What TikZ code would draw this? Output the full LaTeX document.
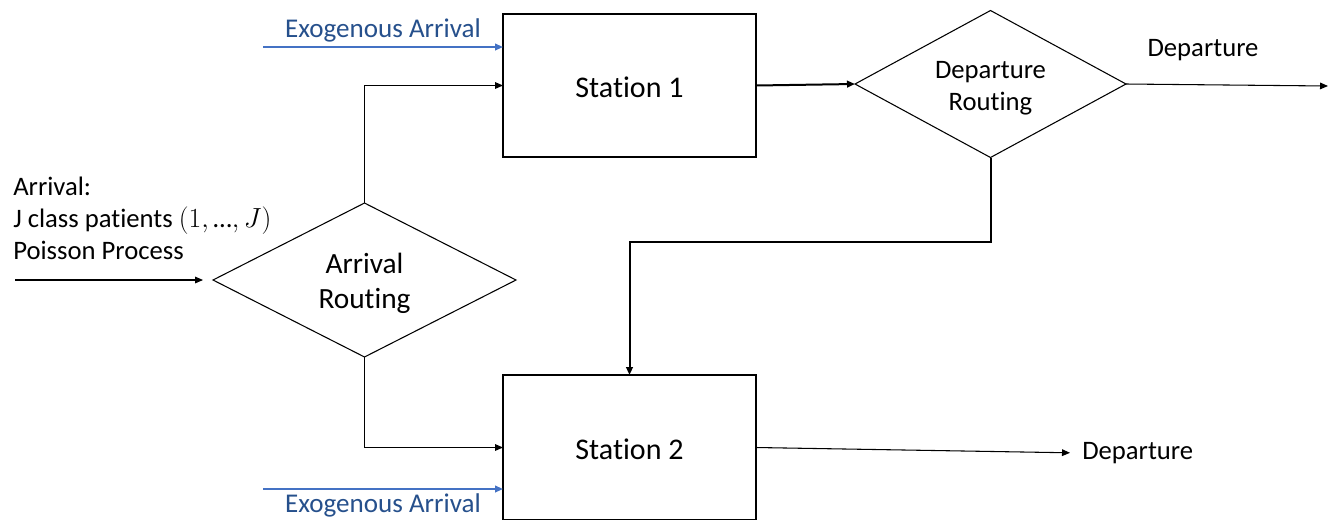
\documentclass[tikz,border=0pt]{standalone}
\usepackage{fontspec}
\setmainfont{Carlito}[Ligatures=NoCommon]
\usetikzlibrary{shapes.geometric,arrows.meta}
\definecolor{exoline}{RGB}{68,114,196}
\definecolor{exotext}{RGB}{38,80,140}
\tikzset{
  px/.style={x=0.75pt,y=-0.75pt},
  station/.style={draw,rectangle,minimum width=189.75pt,inner sep=0pt,outer sep=0pt,line width=0.8pt},
  stationtext/.style={font=\fontsize{22.5}{27}\selectfont,yshift=-1.5pt},
  router/.style={draw,diamond,inner sep=0pt,outer sep=0pt,line width=0.8pt},
  arr/.style={-{Triangle[length=6pt,width=5pt]},line width=0.8pt},
  thickarr/.style={-{Triangle[length=6pt,width=5pt]},line width=1.5pt},
  exoarr/.style={-{Triangle[length=6pt,width=5pt]},line width=1.3pt,draw=exoline},
  exolabel/.style={text=exotext,font=\fontsize{20.3}{24}\selectfont,inner sep=0pt},
  plainlabel/.style={font=\fontsize{20}{24}\selectfont,inner sep=0pt},
}
\begin{document}
\begin{tikzpicture}[px]
\useasboundingbox (0,0) rectangle (1334,519);
\clip (0,0) rectangle (1334,519);
% stations
\node[station,minimum height=107.25pt,label={[stationtext]center:Station 1}] (s1) at (629.5,85.5) {};
\node[station,minimum height=108.75pt,label={[stationtext]center:Station 2}] (s2) at (629.5,447.5) {};
% routers
\node[router,minimum width=227.25pt,minimum height=115.5pt,
  label={[align=center,font=\fontsize{22}{26}\selectfont,yshift=-2.25pt]center:Arrival\\Routing}] (ar) at (364.5,280) {};
\node[router,minimum width=203.25pt,minimum height=110.25pt,
  label={[align=center,font=\fontsize{20}{24}\selectfont,yshift=-3pt]center:Departure\\Routing}] (dr) at (990.5,84) {};
% arrival text
\node[plainlabel,anchor=west,align=left] (atext) at (13,218) {Arrival:\\J class patients $(1,\mbox{…},J)$\\Poisson Process};
\coordinate (ain) at (15,280);
\draw[arr,shorten >=7.5pt] (ain) -- (ar.west);
% routing to stations
\draw[arr] (ar.north) |- (s1.west);
\draw[arr] (ar.south) |- (s2.west);
% exogenous arrivals
\coordinate (e1) at (263,47);
\coordinate (e2) at (263,489);
\draw[exoarr] (e1) -- (e1 -| s1.west);
\draw[exoarr] (e2) -- (e2 -| s2.west);
\node[exolabel] (x1) at (383,30) {Exogenous Arrival};
\node[exolabel] (x2) at (383,505) {Exogenous Arrival};
% station 1 to departure routing
\draw[thickarr] (s1.east) -- (dr.west);
% departure routing out
\coordinate (d1end) at (1328,86);
\draw[arr] (dr.east) -- (d1end);
\node[plainlabel] (d1) at (1203,50) {Departure};
% feedback to station 2
\coordinate (m) at (0,242);
\draw[thickarr] (dr.south) -- (dr.south |- m) -| (s2.north);
% station 2 departure
\node[plainlabel,anchor=west] (d2) at (1082,453) {Departure};
\draw[arr,shorten >=9pt] (s2.east) -- (d2.west);
\end{tikzpicture}
\end{document}
